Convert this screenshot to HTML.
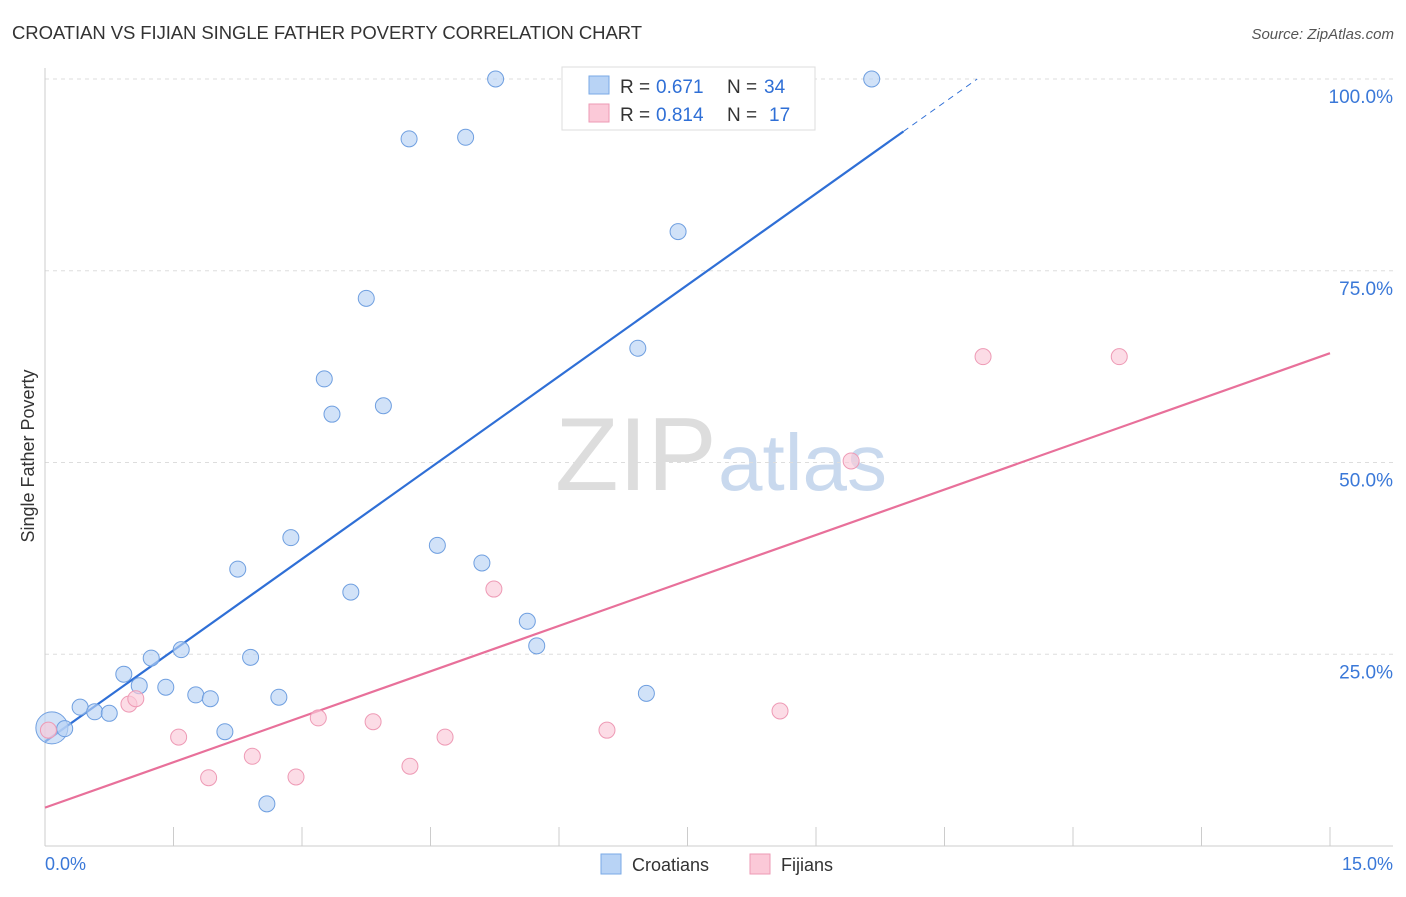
<!DOCTYPE html>
<html><head><meta charset="utf-8"><style>
body{margin:0;background:#fff;font-family:"Liberation Sans",sans-serif;}
svg text{font-family:"Liberation Sans",sans-serif;}
</style></head><body>
<svg id="c" width="1406" height="892" xmlns="http://www.w3.org/2000/svg">
<text x="12" y="39" font-size="18.5" fill="#333" textLength="630">CROATIAN VS FIJIAN SINGLE FATHER POVERTY CORRELATION CHART</text>
<text x="1394" y="39" font-size="15" fill="#555" font-style="italic" text-anchor="end">Source: ZipAtlas.com</text>
<text x="34" y="456" font-size="18" fill="#333" text-anchor="middle" transform="rotate(-90 34 456)">Single Father Poverty</text>
<text x="555" y="490" font-size="104" fill="#ddd" font-family="Liberation Serif">ZIP</text>
<text x="718" y="490" font-size="80" fill="#c9d9ee">atlas</text>
<g id="grid"></g><g id="axes"></g><g id="trend"></g><g id="pts"></g>
<g>
<rect x="562" y="67" width="253" height="63" fill="#fff" stroke="#ddd"/>
<rect x="589" y="76" width="20" height="18" fill="#b8d3f5" stroke="#7aa9e6"/>
<text x="620" y="93" font-size="19" fill="#333">R =</text>
<text x="656" y="93" font-size="19" fill="#2f6fd6">0.671</text>
<text x="727" y="93" font-size="19" fill="#333">N =</text>
<text x="764" y="93" font-size="19" fill="#2f6fd6">34</text>
<rect x="589" y="104" width="20" height="18" fill="#fbc9d8" stroke="#ee9ab5"/>
<text x="620" y="121" font-size="19" fill="#333">R =</text>
<text x="656" y="121" font-size="19" fill="#2f6fd6">0.814</text>
<text x="727" y="121" font-size="19" fill="#333">N =</text>
<text x="769" y="121" font-size="19" fill="#2f6fd6">17</text>
</g>
<g>
<rect x="601" y="854" width="20" height="20" fill="#b8d3f5" stroke="#7aa9e6"/>
<text x="632" y="871" font-size="18" fill="#333">Croatians</text>
<rect x="750" y="854" width="20" height="20" fill="#fbc9d8" stroke="#ee9ab5"/>
<text x="781" y="871" font-size="18" fill="#333">Fijians</text>
</g>
</svg>
<script>
const blueX=[0.08,0.23,0.41,0.58,0.75,0.92,1.10,1.24,1.41,1.59,1.76,1.93,2.10,2.25,2.40,2.59,2.73,2.87,3.26,3.35,3.57,3.75,3.95,4.25,4.58,4.91,5.10,5.26,5.63,5.74,6.92,7.02,7.39,9.65];
const blueY=[15.4,15.3,18.1,17.5,17.3,22.4,20.9,24.5,20.7,25.6,19.7,19.2,14.9,36.1,24.6,5.5,19.4,40.2,60.9,56.3,33.1,71.4,57.4,92.2,39.2,92.4,36.9,100,29.3,26.1,64.9,19.9,80.1,100];
const pinkX=[0.04,0.98,1.06,1.56,1.91,2.42,2.93,3.19,3.83,4.26,4.67,5.24,6.56,8.58,9.41,10.95,12.54];
const pinkY=[15.1,18.5,19.2,14.2,8.9,11.7,9.0,16.7,16.2,10.4,14.2,33.5,15.1,17.6,50.2,63.8,63.8];
const blueTrend=[13.6,7.94];
const pinkTrend=[5.0,3.95];
const yTicks=[25,50,75,100];
const xTickLabels=["0.0%","15.0%"];
const X=v=>45+v/15*1285, Y=v=>846-v/100*767;
const NS="http://www.w3.org/2000/svg";
function mk(p,t,a){const e=document.createElementNS(NS,t);for(const k in a)e.setAttribute(k,a[k]);document.getElementById(p).appendChild(e);return e;}
yTicks.forEach(t=>{
 const l=mk('grid','line',{x1:45,x2:1393,y1:Y(t),y2:Y(t),stroke:'#ddd','stroke-dasharray':'4,4'});
 
 
 const tx=mk('grid','text',{x:1393,y:Y(t)+24,'font-size':19,fill:'#3a78d8','text-anchor':'end'});
 tx.textContent=t.toFixed(1)+'%';
 
 
});
let a=mk('axes','line',{x1:45,x2:45,y1:68,y2:846,stroke:'#ccc'});


a=mk('axes','line',{x1:45,x2:1393,y1:846,y2:846,stroke:'#ccc'});


for(let i=1;i<=10;i++){const tk=mk('axes','line',{x1:X(i*1.5),x2:X(i*1.5),y1:827,y2:846,stroke:'#ccc'});
 
 }
[[0,45,'start'],[1,1393,'end']].forEach(([i,x,an])=>{const t=mk('axes','text',{x:x,y:870,'font-size':18,fill:'#3a78d8','text-anchor':an});t.textContent=xTickLabels[i];
 
 });
let l=mk('trend','line',{x1:X(0),y1:Y(blueTrend[0]),x2:X(10.02),y2:Y(blueTrend[0]+blueTrend[1]*10.02),stroke:'#2f6fd6','stroke-width':2.2});


const xe=(100-blueTrend[0])/blueTrend[1];
l=mk('trend','line',{x1:X(10.02),y1:Y(blueTrend[0]+blueTrend[1]*10.02),x2:X(xe),y2:Y(100),stroke:'#2f6fd6','stroke-width':1,'stroke-dasharray':'6,5'});


l=mk('trend','line',{x1:X(0),y1:Y(pinkTrend[0]),x2:X(15),y2:Y(pinkTrend[0]+pinkTrend[1]*15),stroke:'#e8709a','stroke-width':2.2});


blueX.forEach((x,i)=>{const c=mk('pts','circle',{cx:X(x),cy:Y(blueY[i]),r:i==0?16:8,fill:'#b8d3f5','fill-opacity':0.65,stroke:'#6f9fe0','stroke-width':1});
 
 });
pinkX.forEach((x,i)=>{const c=mk('pts','circle',{cx:X(x),cy:Y(pinkY[i]),r:8,fill:'#fbc9d8','fill-opacity':0.65,stroke:'#ee9ab5','stroke-width':1});
 
 });
</script>
</body></html>
